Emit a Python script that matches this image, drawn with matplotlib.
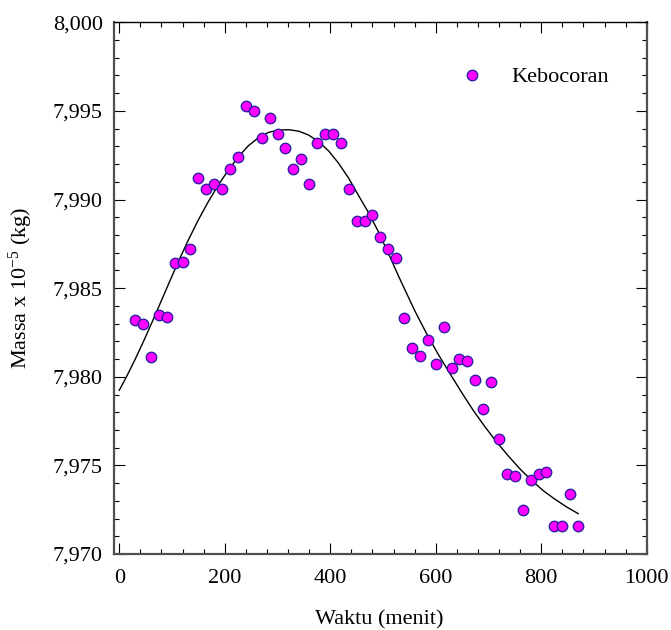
import matplotlib
matplotlib.use("Agg")
import matplotlib.pyplot as plt
from matplotlib.ticker import MultipleLocator, FuncFormatter

# ---- data ----
waktu = [30, 45, 60, 75, 90, 105, 120, 135, 150, 165, 180, 195, 210, 225, 240,
         255, 270, 285, 300, 315, 330, 345, 360, 375, 390, 405, 420, 435, 450,
         465, 480, 495, 510, 525, 540, 555, 570, 585, 600, 615, 630, 645, 660,
         675, 690, 705, 720, 735, 750, 765, 780, 795, 810, 825, 840, 855, 870]
massa = [7.9832, 7.9830, 7.9811, 7.9835, 7.9834, 7.9864, 7.9865, 7.9872, 7.9912,
         7.9906, 7.9909, 7.9906, 7.9917, 7.9924, 7.9953, 7.9950, 7.9935, 7.9946,
         7.9937, 7.9929, 7.9917, 7.9923, 7.9909, 7.9932, 7.9937, 7.9937, 7.9932,
         7.9906, 7.9888, 7.9888, 7.9891, 7.9879, 7.9872, 7.9867, 7.9833, 7.9816,
         7.9812, 7.9821, 7.9807, 7.9828, 7.9805, 7.9810, 7.9809, 7.9798, 7.9782,
         7.9797, 7.9765, 7.9745, 7.9744, 7.9725, 7.9742, 7.9745, 7.9746, 7.9716,
         7.9716, 7.9734, 7.9716]

# fitted curve
fit_x = [0, 14.5, 30, 46, 62, 78, 93.5, 112, 131, 150, 169, 188, 207, 226, 245,
         264, 283, 302, 321, 340, 359, 378, 397, 416, 435, 453, 472, 491, 510,
         529, 548, 561, 584, 606, 627, 649, 671, 693, 716, 738, 760, 782, 804,
         826, 848, 870]
fit_y = [7.97924, 7.98005, 7.98098, 7.98200, 7.98307, 7.98417, 7.98524, 7.98650,
         7.98772, 7.98886, 7.98989, 7.99083, 7.99167, 7.99242, 7.99304, 7.99349,
         7.99379, 7.99392, 7.99394, 7.99386, 7.99364, 7.99326, 7.99274, 7.99204,
         7.99120, 7.99026, 7.98929, 7.98820, 7.98698, 7.98571, 7.98450, 7.98368,
         7.98236, 7.98120, 7.98018, 7.97912, 7.97811, 7.97719, 7.97630, 7.97552,
         7.97479, 7.97415, 7.97357, 7.97309, 7.97266, 7.97228]

series_label = "Kebocoran"
x_label = "Waktu (menit)"
y_label = "Massa x 10$^{-5}$ (kg)"

# ---- style ----
plt.rcParams["font.family"] = ["Liberation Serif", "DejaVu Serif"]
plt.rcParams["mathtext.fontset"] = "custom"
plt.rcParams["mathtext.rm"] = "Liberation Serif"
plt.rcParams["mathtext.it"] = "Liberation Serif:italic"
plt.rcParams["mathtext.bf"] = "Liberation Serif:bold"

fig = plt.figure(figsize=(6.71, 6.30), dpi=100)
ax = fig.add_axes([0.1699, 0.1206, 0.7939, 0.8440])

ax.plot(fit_x, fit_y, color="black", lw=1.0, zorder=2)
ax.plot(waktu, massa, linestyle="none", marker="o", markersize=7.6,
        markerfacecolor="#FF00FF", markeredgecolor="#1f1f99",
        markeredgewidth=0.9, zorder=3, label=series_label)

ax.set_xlim(-10, 1000)
ax.set_ylim(7.970, 8.000)

ax.xaxis.set_major_locator(MultipleLocator(200))
ax.xaxis.set_minor_locator(MultipleLocator(40))
ax.yaxis.set_major_locator(MultipleLocator(0.005))
ax.yaxis.set_minor_locator(MultipleLocator(0.001))
ax.xaxis.set_major_formatter(FuncFormatter(lambda v, p: f"{v:.0f}"))
ax.yaxis.set_major_formatter(FuncFormatter(lambda v, p: f"{v:.3f}".replace(".", ",")))

ax.tick_params(which="both", direction="in", top=True, right=True,
               color="black", width=0.8, labelsize=16)
ax.tick_params(which="major", length=8)
ax.tick_params(which="minor", length=3.8)
ax.tick_params(axis="x", which="major", pad=11)
ax.tick_params(axis="y", which="major", pad=8)

for side in ["left", "right", "bottom"]:
    ax.spines[side].set_color("#505050")
    ax.spines[side].set_linewidth(1.6)
ax.spines["top"].set_color("black")
ax.spines["top"].set_linewidth(1.0)

ax.set_xlabel(x_label, fontsize=16)
ax.set_ylabel(y_label, fontsize=16)
ax.xaxis.set_label_coords(0.4975, -0.106)
ax.yaxis.set_label_coords(-0.148, 0.5)

leg = ax.legend(loc="center left", bbox_to_anchor=(0.652, 0.897),
                frameon=False, fontsize=16, handlelength=1.0,
                handletextpad=1.25, borderpad=0, borderaxespad=0)

fig.savefig("out.png", dpi=100)
